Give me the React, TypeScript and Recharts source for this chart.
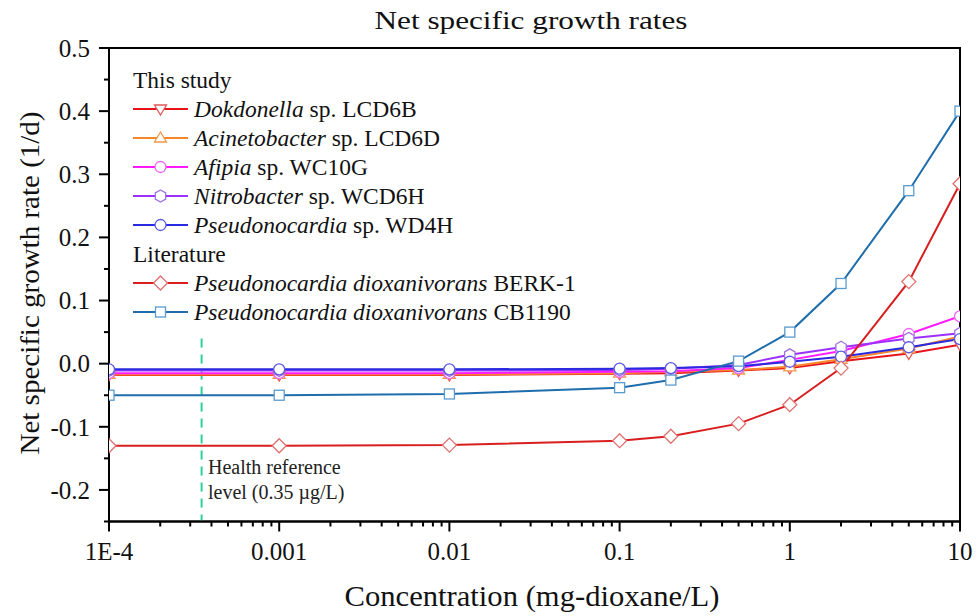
import React from 'react';
import { LineChart, Line, XAxis, YAxis, ReferenceLine, ReferenceArea, Label } from 'recharts';

// ---------- data ----------
const concentrations = [0.0001, 0.001, 0.01, 0.1, 0.2, 0.5, 1, 2, 5, 10];
const dokdonella = [-0.018, -0.018, -0.018, -0.016, -0.015, -0.011, -0.007, 0.004, 0.016, 0.03];
const acinetobacter = [-0.017, -0.017, -0.017, -0.015, -0.013, -0.01, -0.005, 0.007, 0.024, 0.043];
const afipia = [-0.015, -0.015, -0.015, -0.013, -0.012, -0.007, 0.006, 0.02, 0.047, 0.075];
const nitrobacter = [-0.011, -0.011, -0.011, -0.01, -0.008, -0.002, 0.014, 0.026, 0.04, 0.048];
const wd4h = [-0.009, -0.009, -0.009, -0.008, -0.007, -0.004, 0.003, 0.011, 0.026, 0.039];
const berk1 = [-0.13, -0.13, -0.129, -0.122, -0.115, -0.095, -0.065, -0.007, 0.13, 0.285];
const cb1190 = [-0.05, -0.05, -0.048, -0.038, -0.026, 0.004, 0.05, 0.127, 0.274, 0.4];

const healthReferenceLevel = 0.00035;
const healthLineTop = 0.04;

const xTicks = [
  0.0001, 0.0002, 0.0003, 0.0004, 0.0005, 0.0006, 0.0007, 0.0008, 0.0009,
  0.001, 0.002, 0.003, 0.004, 0.005, 0.006, 0.007, 0.008, 0.009,
  0.01, 0.02, 0.03, 0.04, 0.05, 0.06, 0.07, 0.08, 0.09,
  0.1, 0.2, 0.3, 0.4, 0.5, 0.6, 0.7, 0.8, 0.9,
  1, 2, 3, 4, 5, 6, 7, 8, 9, 10,
];
const xMajorTicks = [0.0001, 0.001, 0.01, 0.1, 1, 10];
const xMajorLabels = ['1E-4', '0.001', '0.01', '0.1', '1', '10'];

const yTicks = [-0.25, -0.2, -0.15, -0.1, -0.05, 0, 0.05, 0.1, 0.15, 0.2, 0.25, 0.3, 0.35, 0.4, 0.45, 0.5];
const yMajorTicks = [-0.2, -0.1, 0, 0.1, 0.2, 0.3, 0.4, 0.5];
const yMajorLabels = ['-0.2', '-0.1', '0.0', '0.1', '0.2', '0.3', '0.4', '0.5'];

const data = concentrations.map((c, i) => ({
  x: c,
  dokdonella: dokdonella[i],
  acinetobacter: acinetobacter[i],
  afipia: afipia[i],
  nitrobacter: nitrobacter[i],
  wd4h: wd4h[i],
  berk1: berk1[i],
  cb1190: cb1190[i],
}));

const FONT = "'Liberation Serif', 'Times New Roman', serif";

type Shape = 'triDown' | 'triUp' | 'circle' | 'hexagon' | 'diamond' | 'square';

const seriesDefs: { key: string; italic: string; rest: string; line: string; marker: string; shape: Shape }[] = [
  { key: 'dokdonella', italic: 'Dokdonella', rest: ' sp. LCD6B', line: '#e8141b', marker: '#e05a5a', shape: 'triDown' },
  { key: 'acinetobacter', italic: 'Acinetobacter', rest: ' sp. LCD6D', line: '#f7852a', marker: '#f59a4a', shape: 'triUp' },
  { key: 'afipia', italic: 'Afipia', rest: ' sp. WC10G', line: '#ff1aff', marker: '#ee66ee', shape: 'circle' },
  { key: 'nitrobacter', italic: 'Nitrobacter', rest: ' sp. WCD6H', line: '#9b30ff', marker: '#a070e0', shape: 'hexagon' },
  { key: 'wd4h', italic: 'Pseudonocardia', rest: ' sp. WD4H', line: '#2a2ae0', marker: '#5a5ae6', shape: 'circle' },
  { key: 'berk1', italic: 'Pseudonocardia dioxanivorans', rest: ' BERK-1', line: '#d81e1e', marker: '#e07070', shape: 'diamond' },
  { key: 'cb1190', italic: 'Pseudonocardia dioxanivorans', rest: ' CB1190', line: '#1f6eab', marker: '#5a9bd0', shape: 'square' },
];

function MarkerShape({ cx, cy, shape, stroke }: { cx: number; cy: number; shape: Shape; stroke: string }) {
  const common = { fill: '#fff', stroke, strokeWidth: 1.3 };
  if (cx == null || cy == null || isNaN(cx) || isNaN(cy)) return null;
  switch (shape) {
    case 'triDown':
      return <polygon points={`${cx - 6},${cy - 4} ${cx + 6},${cy - 4} ${cx},${cy + 6}`} {...common} />;
    case 'triUp':
      return <polygon points={`${cx - 6},${cy + 4} ${cx + 6},${cy + 4} ${cx},${cy - 6}`} {...common} />;
    case 'circle':
      return <circle cx={cx} cy={cy} r={5.5} {...common} />;
    case 'hexagon': {
      const r = 6;
      const pts = [0, 1, 2, 3, 4, 5]
        .map((k) => {
          const a = (Math.PI / 3) * k - Math.PI / 2;
          return `${cx + r * Math.cos(a)},${cy + r * Math.sin(a)}`;
        })
        .join(' ');
      return <polygon points={pts} {...common} />;
    }
    case 'diamond':
      return <polygon points={`${cx},${cy - 7} ${cx + 7},${cy} ${cx},${cy + 7} ${cx - 7},${cy}`} {...common} />;
    case 'square':
      return <rect x={cx - 5} y={cy - 5} width={10} height={10} {...common} />;
  }
  return null;
}

const isClose = (a: number, b: number) => Math.abs(a - b) < 1e-9;

function XTick(props: any) {
  const { x, y, payload } = props;
  const v = payload.value;
  const idx = xMajorTicks.findIndex((m) => isClose(Math.log10(m), Math.log10(v)));
  const major = idx >= 0;
  return (
    <g>
      <line x1={x} x2={x} y1={y} y2={y + (major ? 10 : 5)} stroke="#000" strokeWidth={2} />
      {major && (
        <text x={x} y={y + 38.5} textAnchor="middle" style={{ fontFamily: FONT, fontSize: 25 }} fill="#111">
          {xMajorLabels[idx]}
        </text>
      )}
    </g>
  );
}

function YTick(props: any) {
  const { x, y, payload } = props;
  const v = payload.value;
  const idx = yMajorTicks.findIndex((m) => isClose(m, v));
  const major = idx >= 0;
  return (
    <g>
      <line x1={x - (major ? 10 : 5)} x2={x} y1={y} y2={y} stroke="#000" strokeWidth={2} />
      {major && (
        <text x={x - 19} y={y} dy="0.35em" textAnchor="end" style={{ fontFamily: FONT, fontSize: 25 }} fill="#111">
          {yMajorLabels[idx]}
        </text>
      )}
    </g>
  );
}

function LegendIcon({ line, marker, shape }: { line: string; marker: string; shape: Shape }) {
  return (
    <svg width={55} height={18} style={{ display: 'block', flex: '0 0 auto', overflow: 'visible' }}>
      <line x1={0} x2={55} y1={9} y2={9} stroke={line} strokeWidth={2} />
      <MarkerShape cx={27.5} cy={9} shape={shape} stroke={marker} />
    </svg>
  );
}

function LegendBox() {
  const row: React.CSSProperties = { height: 29, display: 'flex', alignItems: 'center', whiteSpace: 'nowrap' };
  const renderEntry = (s: (typeof seriesDefs)[number]) => (
    <div key={s.key} style={row}>
      <LegendIcon line={s.line} marker={s.marker} shape={s.shape} />
      <span style={{ marginLeft: 6 }}>
        <i>{s.italic}</i>
        {s.rest}
      </span>
    </div>
  );
  return (
    <div
      style={{
        position: 'absolute',
        left: 133,
        top: 65.5,
        fontFamily: FONT,
        fontSize: 23.5,
        color: '#111',
      }}
    >
      <div style={row}>This study</div>
      {seriesDefs.slice(0, 5).map(renderEntry)}
      <div style={row}>Literature</div>
      {seriesDefs.slice(5).map(renderEntry)}
    </div>
  );
}

export default function App() {
  return (
    <div style={{ position: 'relative', width: 976, height: 616, background: '#fff', overflow: 'hidden' }}>
      <style>{'html,body{margin:0;padding:0;overflow:hidden;}.recharts-surface{overflow:visible !important;}'}</style>
      <LineChart
        width={976}
        height={616}
        data={data}
        margin={{ top: 48, right: 16, bottom: 34.5, left: 49 }}
      >
        <XAxis
          dataKey="x"
          type="number"
          scale="log"
          domain={[0.0001, 10]}
          ticks={xTicks}
          interval={0}
          allowDataOverflow
          height={60}
          tickSize={0}
          tickMargin={0}
          tickLine={false}
          tick={<XTick />}
          axisLine={{ stroke: '#000', strokeWidth: 2 }}
        >
          <Label
            content={() => (
              <text
                x={532}
                y={606}
                textAnchor="middle"
                textLength={375}
                lengthAdjust="spacingAndGlyphs"
                style={{ fontFamily: FONT, fontSize: 29 }}
                fill="#111"
              >
                Concentration (mg-dioxane/L)
              </text>
            )}
          />
        </XAxis>
        <YAxis
          type="number"
          domain={[-0.25, 0.5]}
          ticks={yTicks}
          interval={0}
          allowDataOverflow
          width={60}
          tickSize={0}
          tickMargin={0}
          tickLine={false}
          tick={<YTick />}
          axisLine={{ stroke: '#000', strokeWidth: 2 }}
        >
          <Label
            content={() => (
              <text
                x={30}
                y={283}
                transform="rotate(-90 30 283)"
                textAnchor="middle"
                dominantBaseline="central"
                textLength={343}
                lengthAdjust="spacingAndGlyphs"
                style={{ fontFamily: FONT, fontSize: 27 }}
                fill="#111"
              >
                Net specific growth rate (1/d)
              </text>
            )}
          />
        </YAxis>
        <ReferenceArea
          x1={0.0001}
          x2={10}
          y1={-0.25}
          y2={0.5}
          fill="none"
          fillOpacity={0}
          stroke="#000"
          strokeWidth={2}
          ifOverflow="visible"
        />
        <ReferenceLine
          segment={[
            { x: healthReferenceLevel, y: healthLineTop },
            { x: healthReferenceLevel, y: -0.25 },
          ]}
          stroke="#2ecf96"
          strokeWidth={2}
          strokeDasharray="9 7"
          ifOverflow="visible"
        />
        {seriesDefs.map((s) => (
          <Line
            key={s.key}
            dataKey={s.key}
            type="linear"
            stroke={s.line}
            strokeWidth={2}
            isAnimationActive={false}
            dot={(p: any) => (
              <MarkerShape key={`${s.key}-${p.index}`} cx={p.cx} cy={p.cy} shape={s.shape} stroke={s.marker} />
            )}
            activeDot={false}
          />
        ))}
      </LineChart>
      <svg
        width={976}
        height={48}
        style={{ position: 'absolute', left: 0, top: 0, overflow: 'visible', pointerEvents: 'none' }}
      >
        <text
          x={531}
          y={29}
          textAnchor="middle"
          textLength={313}
          lengthAdjust="spacingAndGlyphs"
          style={{ fontFamily: FONT, fontSize: 26 }}
          fill="#111"
        >
          Net specific growth rates
        </text>
      </svg>
      <LegendBox />
      <div
        style={{
          position: 'absolute',
          left: 208,
          top: 455,
          fontFamily: FONT,
          fontSize: 20,
          lineHeight: '25px',
          color: '#222',
          whiteSpace: 'nowrap',
        }}
      >
        <div>Health reference</div>
        <div>level (0.35 µg/L)</div>
      </div>
    </div>
  );
}
